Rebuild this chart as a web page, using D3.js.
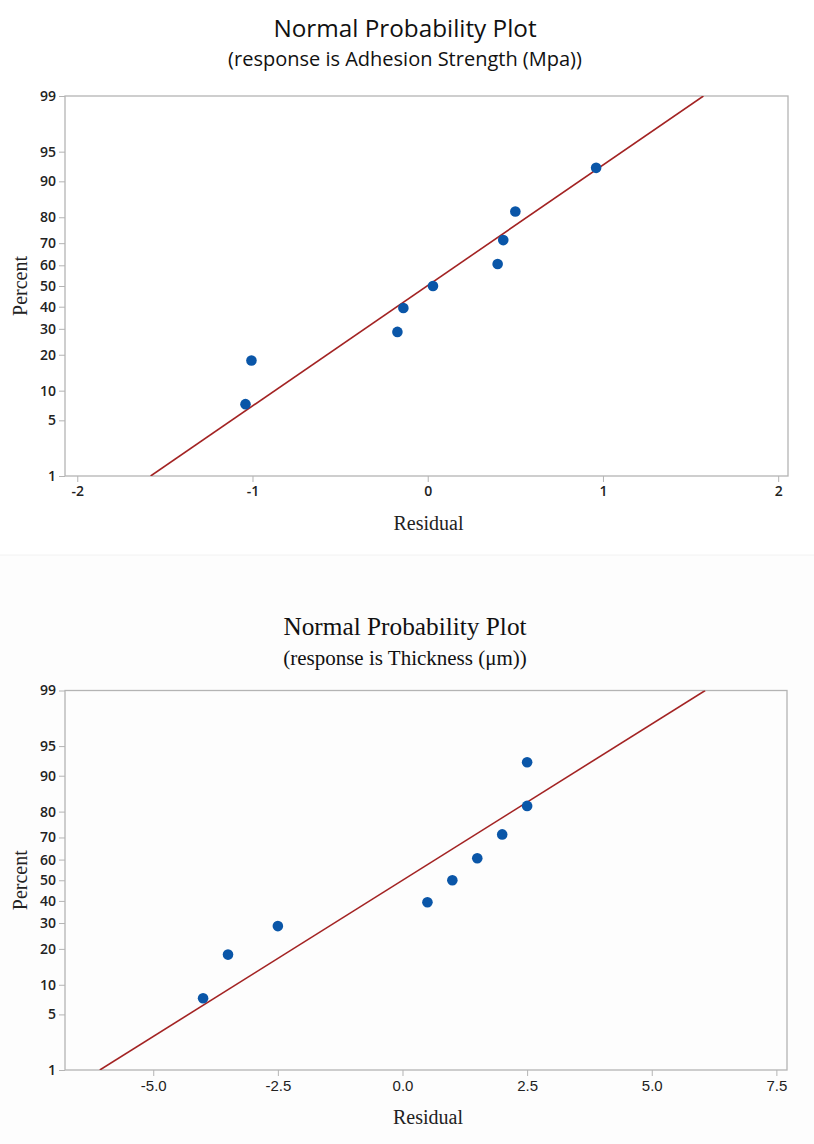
<!DOCTYPE html>
<html>
<head>
<meta charset="utf-8">
<script src="https://cdn.jsdelivr.net/npm/d3@7"></script>
<style>
  body { margin: 0; background: #fff; }
</style>
</head>
<body>
<svg></svg>
<script>
// Data
const percentTicks = [1, 5, 10, 20, 30, 40, 50, 60, 70, 80, 90, 95, 99];

// plot 1: Adhesion Strength
const adhesionResid = [-1.04, -1.006, -0.173, -0.139, 0.03, 0.399, 0.431, 0.5, 0.961];
const adhesionPct = [7.4, 18.1, 28.7, 39.4, 50, 60.6, 71.3, 81.9, 92.6];
const adhesionFit = { mean: -0.004, sd: 0.678 };
const adhesionXTicks = [-2, -1, 0, 1, 2];

// plot 2: Thickness
const thickResid = [-4, -3.5, -2.5, 0.5, 1, 1.5, 2, 2.5, 2.5];
const thickPct = [7.4, 18.1, 28.7, 39.4, 50, 60.6, 71.3, 81.9, 92.6];
const thickFit = { mean: 0, sd: 2.61 };
const thickXTicks = [-5, -2.5, 0, 2.5, 5, 7.5];

let w = 814;
let h = 1144;
var svg = d3.select("svg").attr("width", w).attr("height", h);

// lower half is a slightly different shade (two pictures stacked)
svg.append("rect").attr("x", 0).attr("y", 555).attr("width", w).attr("height", h - 555).attr("fill", "#fdfdfd");
svg.append("line").attr("x1", 0).attr("x2", w).attr("y1", 555).attr("y2", 555).attr("stroke", "#f2f2f2");

// inverse normal cdf (Acklam)
function probit(p) {
  const a = [-3.969683028665376e+01, 2.209460984245205e+02, -2.759285104469687e+02, 1.383577518672690e+02, -3.066479806614716e+01, 2.506628277459239e+00];
  const b = [-5.447609879822406e+01, 1.615858368580409e+02, -1.556989798598866e+02, 6.680131188771972e+01, -1.328068155288572e+01];
  const c = [-7.784894002430293e-03, -3.223964580411365e-01, -2.400758277161838e+00, -2.549732539343734e+00, 4.374664141464968e+00, 2.938163982698783e+00];
  const d = [7.784695709041462e-03, 3.224671290700398e-01, 2.445134137142996e+00, 3.754408661907416e+00];
  const pl = 0.02425;
  let q, r;
  if (p < pl) {
    q = Math.sqrt(-2 * Math.log(p));
    return (((((c[0]*q+c[1])*q+c[2])*q+c[3])*q+c[4])*q+c[5]) / ((((d[0]*q+d[1])*q+d[2])*q+d[3])*q+1);
  } else if (p <= 1 - pl) {
    q = p - 0.5; r = q * q;
    return (((((a[0]*r+a[1])*r+a[2])*r+a[3])*r+a[4])*r+a[5])*q / (((((b[0]*r+b[1])*r+b[2])*r+b[3])*r+b[4])*r+1);
  } else {
    q = Math.sqrt(-2 * Math.log(1 - p));
    return -(((((c[0]*q+c[1])*q+c[2])*q+c[3])*q+c[4])*q+c[5]) / ((((d[0]*q+d[1])*q+d[2])*q+d[3])*q+1);
  }
}

// plain hyphen as minus sign, like the original
const hyphen = (f) => (v) => f(v).replace("\u2212", "-");

function drawPanel(opt) {
  var g = svg.append("g");
  var x = d3.scaleLinear().domain(opt.xDomain).range([opt.left, opt.right]);
  var yz = d3.scaleLinear().domain([probit(0.01), probit(0.99)]).range([opt.bottom, opt.top]);
  var y = (p) => yz(probit(p / 100));

  // titles
  g.append("text")
    .attr("x", 405).attr("y", opt.titleY)
    .attr("text-anchor", "middle")
    .style("font-family", opt.titleFont)
    .style("font-size", opt.titleSize + "px")
    .style("font-weight", opt.titleWeight)
    .attr("fill", "#111")
    .text("Normal Probability Plot");
  g.append("text")
    .attr("x", 405).attr("y", opt.subY)
    .attr("text-anchor", "middle")
    .style("font-family", opt.titleFont)
    .style("font-size", opt.subSize + "px")
    .attr("fill", "#111")
    .text(opt.subtitle);

  // frame
  g.append("rect")
    .attr("x", opt.left).attr("y", opt.top)
    .attr("width", opt.right - opt.left).attr("height", opt.bottom - opt.top)
    .attr("fill", "none").attr("stroke", "#b4b4b4").attr("stroke-width", 1.3);

  // y axis
  var yAxis = d3.axisLeft(d3.scaleLinear().domain([opt.bottom, opt.top]).range([opt.bottom, opt.top]))
    .tickValues(percentTicks.map(y))
    .tickFormat((v, i) => percentTicks[i])
    .tickSize(6).tickSizeOuter(0);
  var ya = g.append("g").attr("transform", `translate(${opt.left},0)`).call(yAxis);
  ya.select(".domain").remove();
  ya.selectAll(".tick line").attr("stroke", "#b4b4b4");
  ya.selectAll(".tick text")
    .attr("x", -9)
    .style("font-family", "'Open Sans', sans-serif")
    .style("font-size", "14px")
    .style("font-weight", 600)
    .attr("fill", "#222");

  // x axis
  var xAxis = d3.axisBottom(x).tickValues(opt.xTicks).tickFormat(hyphen(opt.xFormat)).tickSize(6).tickSizeOuter(0);
  var xa = g.append("g").attr("transform", `translate(0,${opt.bottom})`).call(xAxis);
  xa.select(".domain").remove();
  xa.selectAll(".tick line").attr("stroke", "#b4b4b4");
  xa.selectAll(".tick text")
    .attr("y", 10)
    .style("font-family", opt.xTickFont)
    .style("font-size", opt.xTickSize + "px")
    .style("font-weight", opt.xTickWeight)
    .attr("fill", "#222");

  // axis labels
  g.append("text")
    .attr("x", (opt.left + opt.right) / 2 + 2).attr("y", opt.bottom + 54)
    .attr("text-anchor", "middle")
    .style("font-family", "'Liberation Serif', serif")
    .style("font-size", "20px")
    .attr("fill", "#222")
    .text("Residual");
  g.append("text")
    .attr("transform", `translate(27,${(opt.top + opt.bottom) / 2}) rotate(-90)`)
    .attr("text-anchor", "middle")
    .style("font-family", "'Liberation Serif', serif")
    .style("font-size", "20px")
    .attr("fill", "#222")
    .text("Percent");

  // fitted line, clipped to the frame
  var clipId = "clip" + Math.round(opt.top);
  g.append("clipPath").attr("id", clipId).append("rect")
    .attr("x", opt.left).attr("y", opt.top)
    .attr("width", opt.right - opt.left).attr("height", opt.bottom - opt.top);
  var zLo = probit(0.01), zHi = probit(0.99);
  g.append("line")
    .attr("clip-path", `url(#${clipId})`)
    .attr("x1", x(opt.fit.mean + opt.fit.sd * zLo)).attr("y1", yz(zLo))
    .attr("x2", x(opt.fit.mean + opt.fit.sd * zHi)).attr("y2", yz(zHi))
    .attr("stroke", "#a32323").attr("stroke-width", 1.6);

  // points
  g.append("g").selectAll("circle")
    .data(opt.resid)
    .enter()
    .append("circle")
    .attr("cx", (d) => x(d))
    .attr("cy", (d, i) => y(opt.pct[i]))
    .attr("r", 5.3)
    .attr("fill", "#0a56a8");
}

drawPanel({
  top: 96, bottom: 476, left: 65, right: 788,
  xDomain: [-2.07, 2.056],
  xTicks: adhesionXTicks, xFormat: d3.format("d"),
  xTickFont: "'Open Sans', sans-serif", xTickSize: 14, xTickWeight: 600,
  resid: adhesionResid, pct: adhesionPct, fit: adhesionFit,
  titleY: 37, subY: 66, titleFont: "'Open Sans', sans-serif", titleSize: 24.3, titleWeight: 400, subSize: 20,
  subtitle: "(response is Adhesion Strength (Mpa))"
});

drawPanel({
  top: 690.5, bottom: 1070, left: 65, right: 787,
  xDomain: [-6.77, 7.713],
  xTicks: thickXTicks, xFormat: d3.format(".1f"),
  xTickFont: "'Liberation Sans Narrow', 'Arial Narrow', sans-serif", xTickSize: 15, xTickWeight: 400,
  resid: thickResid, pct: thickPct, fit: thickFit,
  titleY: 635, subY: 665, titleFont: "'Liberation Serif', serif", titleSize: 25.3, titleWeight: 400, subSize: 21,
  subtitle: "(response is Thickness (\u03bcm))"
});
</script>
</body>
</html>
